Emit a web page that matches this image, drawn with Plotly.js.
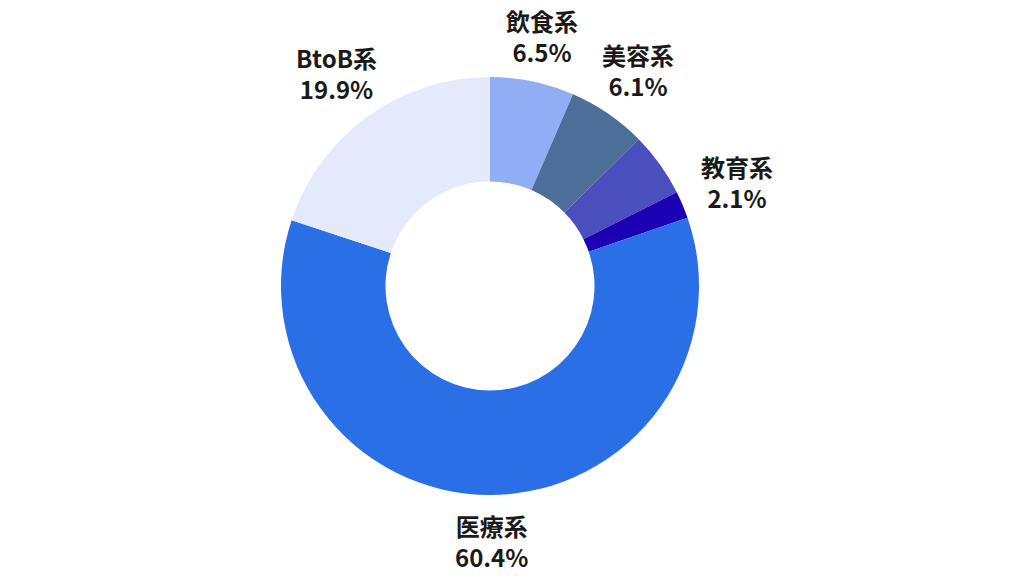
<!DOCTYPE html>
<html>
<head>
<meta charset="utf-8">
<script src="https://cdn.plot.ly/plotly-3.0.1.min.js"></script>
<style>
  html, body { margin: 0; padding: 0; background: #fff; }
  #chart { width: 1024px; height: 576px; }
</style>
</head>
<body>
<div id="chart"></div>
<script>
const categories = ["飲食系", "美容系", "その他", "教育系", "医療系", "BtoB系"];
const shares = [6.5, 6.1, 5.0, 2.1, 60.4, 19.9];
const sliceColors = ["#91AEF5", "#4D6E99", "#4B4FBE", "#1C00B3", "#2B6FE6", "#E4E9FB"];
const shownLabels = [true, true, false, true, true, true];

// plot area in pixels (from margins below)
const W = 1024, H = 576;
const M = { l: 0, r: 44, t: 77, b: 81 };
const plotW = W - M.l - M.r, plotH = H - M.t - M.b;
const outerR = plotH / 2;

// labels sit just outside the ring, on each slice's middle angle
const total = shares.reduce(function (a, b) { return a + b; }, 0);
let acc = 0;
const annotations = [];
shares.forEach(function (v, i) {
    const mid = (acc + v / 2) / total * 2 * Math.PI;
    acc += v;
    if (!shownLabels[i]) return;
    const s = Math.abs(Math.sin(mid)), c = Math.abs(Math.cos(mid));
    const hw = 42, hh = 32;
    const edge = Math.min(s > 0.001 ? hw / s : 1e9, c > 0.001 ? hh / c : 1e9);
    const r = outerR + 14 + edge;
    const dx = r * Math.sin(mid), dy = r * Math.cos(mid);
    annotations.push({
        x: 0.5 + dx / plotW,
        y: 0.5 + dy / plotH,
        xref: "paper", yref: "paper",
        xanchor: "center", yanchor: "middle",
        showarrow: false,
        align: "center",
        text: categories[i] + "<br>" + shares[i].toFixed(1) + "%",
        font: { family: "Noto Sans CJK JP", size: 24, color: "#1a1a1a", weight: "bold" }
    });
});

Plotly.newPlot("chart", [{
    type: "pie",
    labels: categories,
    values: shares,
    textinfo: "none",
    sort: false,
    direction: "clockwise",
    rotation: 0,
    hole: 0.5,
    marker: { colors: sliceColors, line: { width: 0 } },
    showlegend: false
}], {
    width: W,
    height: H,
    margin: M,
    paper_bgcolor: "#ffffff",
    showlegend: false,
    annotations: annotations
}, { staticPlot: true });
</script>
</body>
</html>
